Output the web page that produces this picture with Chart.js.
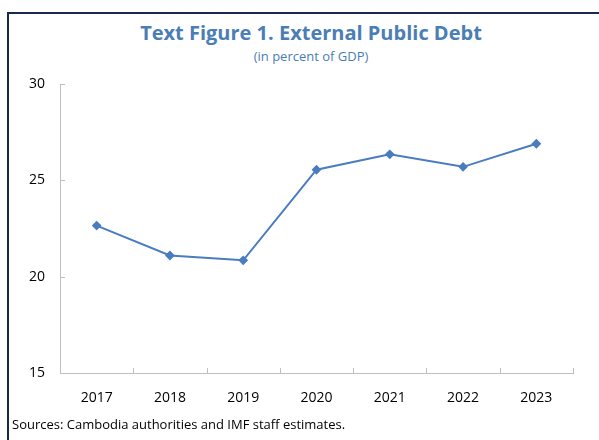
<!DOCTYPE html>
<html>
<head>
<meta charset="utf-8">
<script src="https://cdn.jsdelivr.net/npm/chart.js@4"></script>
<style>
  body { margin: 0; background: #fff; font-family: "Open Sans", sans-serif; }
  #frame {
    position: absolute; left: 7px; top: 12px; width: 620px; height: 440px;
    border-left: 2px solid #17294d; border-top: 2px solid #17294d;
  }
  #title {
    position: absolute; left: 7px; width: 608px; top: 19px; text-align: center;
    font-weight: bold; font-size: 20px; color: #4a7eb5;
  }
  #subtitle {
    position: absolute; left: 7px; width: 608px; top: 47px; text-align: center;
    font-size: 13px; color: #4a7eb5;
  }
  #source { position: absolute; left: 12px; top: 415px; font-size: 13px; color: #000; }
  #wrap { position: absolute; left: 0; top: 0; width: 599px; height: 440px; }
</style>
</head>
<body>
<div id="frame"></div>
<div id="title">Text Figure 1. External Public Debt</div>
<div id="subtitle">(in percent of GDP)</div>
<div id="wrap"><canvas id="chart"></canvas></div>
<div id="source">Sources: Cambodia authorities and IMF staff estimates.</div>
<script>
const years = ['2017', '2018', '2019', '2020', '2021', '2022', '2023']
const debt = [22.65, 21.1, 20.85, 25.55, 26.35, 25.7, 26.9]
const yTicks = [15, 20, 25, 30]

const axisColor = '#bfbfbf'

// small inward tick marks like the original Excel chart
const innerTicks = {
  id: 'innerTicks',
  afterDraw(chart) {
    const { ctx, scales: { x, y } } = chart
    ctx.save()
    ctx.strokeStyle = axisColor
    ctx.lineWidth = 1
    ctx.beginPath()
    for (let i = 0; i <= years.length; i++) {
      let px
      if (i === 0) px = x.left
      else if (i === years.length) px = x.right
      else px = (x.getPixelForValue(i - 1) + x.getPixelForValue(i)) / 2
      px = Math.round(px) + 0.5
      ctx.moveTo(px, y.bottom)
      ctx.lineTo(px, y.bottom - 5)
    }
    yTicks.forEach(v => {
      const py = Math.round(y.getPixelForValue(v)) + 0.5
      ctx.moveTo(x.left, py)
      ctx.lineTo(x.left + 5, py)
    })
    ctx.stroke()
    ctx.restore()
  }
}

new Chart(document.getElementById('chart'), {
  type: 'line',
  data: {
    labels: years,
    datasets: [{
      data: debt,
      borderColor: '#4a7cc0',
      backgroundColor: '#4a7cc0',
      borderWidth: 2,
      pointStyle: 'rectRot',
      pointRadius: 3.5,
      tension: 0
    }]
  },
  options: {
    responsive: true,
    maintainAspectRatio: false,
    animation: false,
    layout: { padding: { top: 84, right: 26, bottom: 37, left: 0 } },
    plugins: {
      legend: { display: false },
      tooltip: { enabled: false }
    },
    scales: {
      x: {
        offset: true,
        grid: { display: false, drawTicks: false },
        border: { display: true, color: axisColor, width: 1 },
        ticks: { color: '#000', padding: 17, font: { family: 'Open Sans', size: 14 } },
        afterFit: s => { s.height = 30 }
      },
      y: {
        min: 15,
        max: 30,
        grid: { display: false, drawTicks: false },
        border: { display: true, color: axisColor, width: 1 },
        ticks: { stepSize: 5, color: '#000', padding: 15, font: { family: 'Open Sans', size: 14 } },
        afterFit: s => { s.width = 60 }
      }
    }
  },
  plugins: [innerTicks]
})
</script>
</body>
</html>
